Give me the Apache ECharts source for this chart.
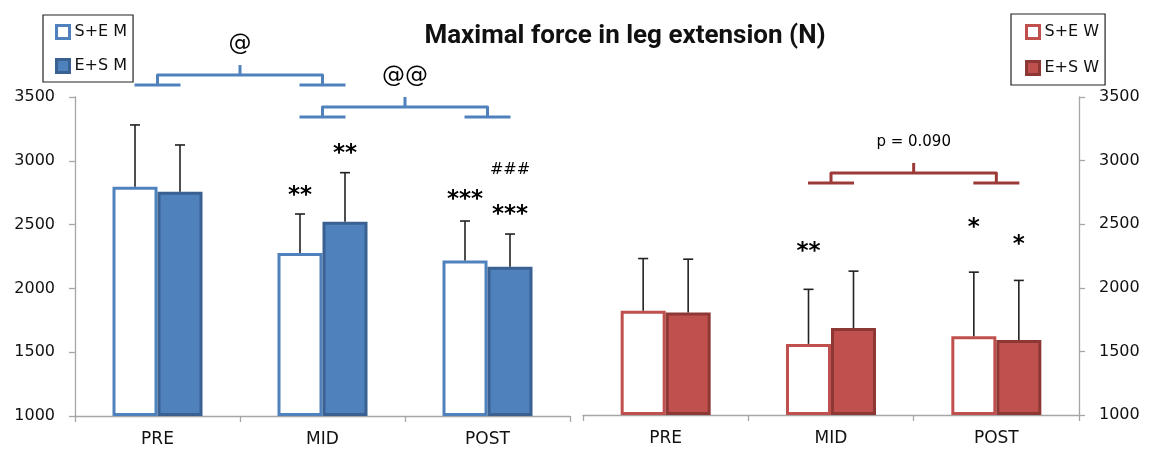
<!DOCTYPE html>
<html><head><meta charset="utf-8">
<script src="https://cdn.jsdelivr.net/npm/echarts@6/dist/echarts.min.js"></script>
<style>html,body{margin:0;padding:0;background:#fff}#c{width:1155px;height:455px}</style>
</head><body><div id="c"></div>
<script>
// ---- data ----
const categories = ['PRE', 'MID', 'POST'];
const yMin = 1000, yMax = 3500, yStep = 500;
const menSE = [2797, 2277, 2218];
const menES = [2758, 2523, 2170];
const menSEsd = [484, 306, 310];
const menESsd = [366, 384, 256];
const womenSE = [1819, 1559, 1619];
const womenES = [1806, 1684, 1590];
const womenSEsd = [411, 429, 504];
const womenESsd = [419, 447, 468];
// significance marks and the value level where each is written
const menSEsig = ['', '**', '***'];
const menSEsigAt = [null, 2755, 2724];
const menESsig = ['', '**', '***'];
const menESsigAt = [null, 3085, 2607];
const menESsig2 = ['', '', '###'];
const menESsig2At = [null, null, 2928];
const womenSEsig = ['', '**', '*'];
const womenSEsigAt = [null, 2310, 2505];
const womenESsig = ['', '', '*'];
const womenESsigAt = [null, null, 2365];
// comparison brackets: [fromCategory, toCategory, level]
const menBrackets = [[0, 1, 3672], [1, 2, 3422]];
const menBracketLabels = ['@', '@@'];
const womenBrackets = [[1, 2, 2903]];
const womenBracketLabels = ['p = 0.090'];

// ---- styles ----
const BLUE = '#4F81BD', BLUE_D = '#3A6192', RED = '#C0504D', RED_D = '#8E3835', BR_RED = '#9C3A37';
const AXIS = '#A6A6A6';
const FONT = '"DejaVu Sans"';
const BAR_W = 45;

function errRender(sign) {
  return function (params, api) {
    const x = api.value(0), v = api.value(1), e = api.value(2);
    const b = api.coord([x, v]), t = api.coord([x, v + e]);
    const cx = b[0] + sign * BAR_W / 2;
    const st = { stroke: '#222', lineWidth: 1.6 };
    return { type: 'group', children: [
      { type: 'line', shape: { x1: cx, y1: b[1], x2: cx, y2: t[1] }, style: st },
      { type: 'line', shape: { x1: cx - 5, y1: t[1], x2: cx + 5, y2: t[1] }, style: st }
    ]};
  };
}
function sigRender(sign, texts, font, dy) {
  return function (params, api) {
    const i = api.value(0);
    const p = api.coord([i, api.value(1)]);
    return { type: 'text', style: { text: texts[i], x: p[0] + sign * BAR_W / 2, y: p[1] + dy,
      align: 'center', verticalAlign: 'middle', font: font, fill: '#000' } };
  };
}
function bracketRender(labels, color, font) {
  return function (params, api) {
    const a = api.coord([api.value(0), api.value(2)]);
    const b = api.coord([api.value(1), api.value(2)]);
    const y = a[1], yf = y + 10, yt = y - 10, mid = (a[0] + b[0]) / 2, h = 23;
    const s = { stroke: color, lineWidth: 3, fill: null, lineJoin: 'round' };
    return { type: 'group', children: [
      { type: 'polyline', shape: { points: [[a[0], yf], [a[0], y], [b[0], y], [b[0], yf]] }, style: s },
      { type: 'line', shape: { x1: a[0] - h, y1: yf, x2: a[0] + h, y2: yf }, style: s },
      { type: 'line', shape: { x1: b[0] - h, y1: yf, x2: b[0] + h, y2: yf }, style: s },
      { type: 'line', shape: { x1: mid, y1: y, x2: mid, y2: yt }, style: s },
      { type: 'text', style: { text: labels[params.dataIndex], x: mid, y: y - 31, align: 'center',
        verticalAlign: 'middle', font: font, fill: '#000' } }
    ]};
  };
}
function pts(vals, sds) { return categories.map((c, i) => [i, vals[i], sds[i]]); }
function sigPts(at) { return at.map((v, i) => v == null ? null : [i, v]).filter(d => d); }

const xAxisBase = {
  type: 'category', data: categories,
  axisLine: { lineStyle: { color: AXIS, width: 1.3 } },
  axisTick: { show: true, length: 6, lineStyle: { color: AXIS, width: 1.3 } },
  axisLabel: { color: '#111', fontFamily: FONT, fontSize: 17, margin: 15 },
  splitLine: { show: false }
};
const yAxisBase = {
  type: 'value', min: yMin, max: yMax, interval: yStep, startValue: yMin,
  axisLine: { show: true, lineStyle: { color: AXIS, width: 1.3 } },
  axisTick: { show: true, length: 6, lineStyle: { color: AXIS, width: 1.3 } },
  axisLabel: { color: '#111', fontFamily: FONT, fontSize: 16, margin: 20, formatter: v => String(v) },
  splitLine: { show: false }
};
const legendBase = {
  orient: 'vertical', itemWidth: 13, itemHeight: 13, itemGap: 18, icon: 'rect',
  borderColor: '#222', borderWidth: 1.2, backgroundColor: '#fff',
  textStyle: { fontFamily: FONT, fontSize: 16, color: '#111' }
};

const option = {
  animation: false,
  backgroundColor: '#fff',
  title: { text: 'Maximal force in leg extension (N)', left: 620, top: 18, textAlign: 'center',
    textStyle: { fontFamily: 'Roboto', fontWeight: 'bold', fontSize: 26, color: '#111' } },
  legend: [
    Object.assign({}, legendBase, { left: 43, top: 15, padding: [9, 6, 8, 12],
      data: [
        { name: 'S+E M', itemStyle: { color: '#fff', borderColor: BLUE, borderWidth: 3 } },
        { name: 'E+S M', itemStyle: { color: BLUE, borderColor: BLUE_D, borderWidth: 3 } }] }),
    Object.assign({}, legendBase, { left: 1011, top: 14, padding: [10, 6, 9, 14], itemGap: 20,
      data: [
        { name: 'S+E W', itemStyle: { color: '#fff', borderColor: RED, borderWidth: 3 } },
        { name: 'E+S W', itemStyle: { color: RED, borderColor: RED_D, borderWidth: 3 } }] })
  ],
  grid: [
    { left: 75, top: 97, width: 495, height: 319, containLabel: false },
    { left: 583, top: 97, width: 496, height: 318, containLabel: false }
  ],
  xAxis: [
    Object.assign({ gridIndex: 0 }, xAxisBase),
    Object.assign({ gridIndex: 1 }, xAxisBase)
  ],
  yAxis: [
    Object.assign({ gridIndex: 0, position: 'left' }, yAxisBase),
    Object.assign({ gridIndex: 1, position: 'right' }, yAxisBase)
  ],
  series: [
    { name: 'S+E M', type: 'bar', xAxisIndex: 0, yAxisIndex: 0, data: menSE, barWidth: BAR_W, barGap: '0%',
      itemStyle: { color: '#fff', borderColor: BLUE, borderWidth: 3 } },
    { name: 'E+S M', type: 'bar', xAxisIndex: 0, yAxisIndex: 0, data: menES, barWidth: BAR_W, barGap: '0%',
      itemStyle: { color: BLUE, borderColor: BLUE_D, borderWidth: 3 } },
    { name: 'S+E W', type: 'bar', xAxisIndex: 1, yAxisIndex: 1, data: womenSE, barWidth: BAR_W, barGap: '0%',
      itemStyle: { color: '#fff', borderColor: RED, borderWidth: 3 } },
    { name: 'E+S W', type: 'bar', xAxisIndex: 1, yAxisIndex: 1, data: womenES, barWidth: BAR_W, barGap: '0%',
      itemStyle: { color: RED, borderColor: RED_D, borderWidth: 3 } },

    { type: 'custom', xAxisIndex: 0, yAxisIndex: 0, renderItem: errRender(-1), data: pts(menSE, menSEsd), encode: { x: 0, y: 1 }, z: 5, silent: true },
    { type: 'custom', xAxisIndex: 0, yAxisIndex: 0, renderItem: errRender(1), data: pts(menES, menESsd), encode: { x: 0, y: 1 }, z: 5, silent: true },
    { type: 'custom', xAxisIndex: 1, yAxisIndex: 1, renderItem: errRender(-1), data: pts(womenSE, womenSEsd), encode: { x: 0, y: 1 }, z: 5, silent: true },
    { type: 'custom', xAxisIndex: 1, yAxisIndex: 1, renderItem: errRender(1), data: pts(womenES, womenESsd), encode: { x: 0, y: 1 }, z: 5, silent: true },

    { type: 'custom', xAxisIndex: 0, yAxisIndex: 0, renderItem: sigRender(-1, menSEsig, 'bold 23px "DejaVu Sans"', 4), data: sigPts(menSEsigAt), encode: { x: 0, y: 1 }, z: 6, silent: true },
    { type: 'custom', xAxisIndex: 0, yAxisIndex: 0, renderItem: sigRender(1, menESsig, 'bold 23px "DejaVu Sans"', 4), data: sigPts(menESsigAt), encode: { x: 0, y: 1 }, z: 6, silent: true },
    { type: 'custom', xAxisIndex: 0, yAxisIndex: 0, renderItem: sigRender(1, menESsig2, '16px "DejaVu Sans"', 0), data: sigPts(menESsig2At), encode: { x: 0, y: 1 }, z: 6, silent: true },
    { type: 'custom', xAxisIndex: 1, yAxisIndex: 1, renderItem: sigRender(-1, womenSEsig, 'bold 23px "DejaVu Sans"', 4), data: sigPts(womenSEsigAt), encode: { x: 0, y: 1 }, z: 6, silent: true },
    { type: 'custom', xAxisIndex: 1, yAxisIndex: 1, renderItem: sigRender(1, womenESsig, 'bold 23px "DejaVu Sans"', 4), data: sigPts(womenESsigAt), encode: { x: 0, y: 1 }, z: 6, silent: true },

    { type: 'custom', xAxisIndex: 0, yAxisIndex: 0, renderItem: bracketRender(menBracketLabels, BLUE, '23px "DejaVu Sans"'), data: menBrackets, encode: { x: [0, 1], y: 2 }, z: 6, silent: true, clip: false },
    { type: 'custom', xAxisIndex: 1, yAxisIndex: 1, renderItem: bracketRender(womenBracketLabels, BR_RED, '15px "DejaVu Sans"'), data: womenBrackets, encode: { x: [0, 1], y: 2 }, z: 6, silent: true, clip: false }
  ]
};
const chart = echarts.init(document.getElementById('c'), null, { renderer: 'canvas' });
chart.setOption(option);
</script></body></html>
